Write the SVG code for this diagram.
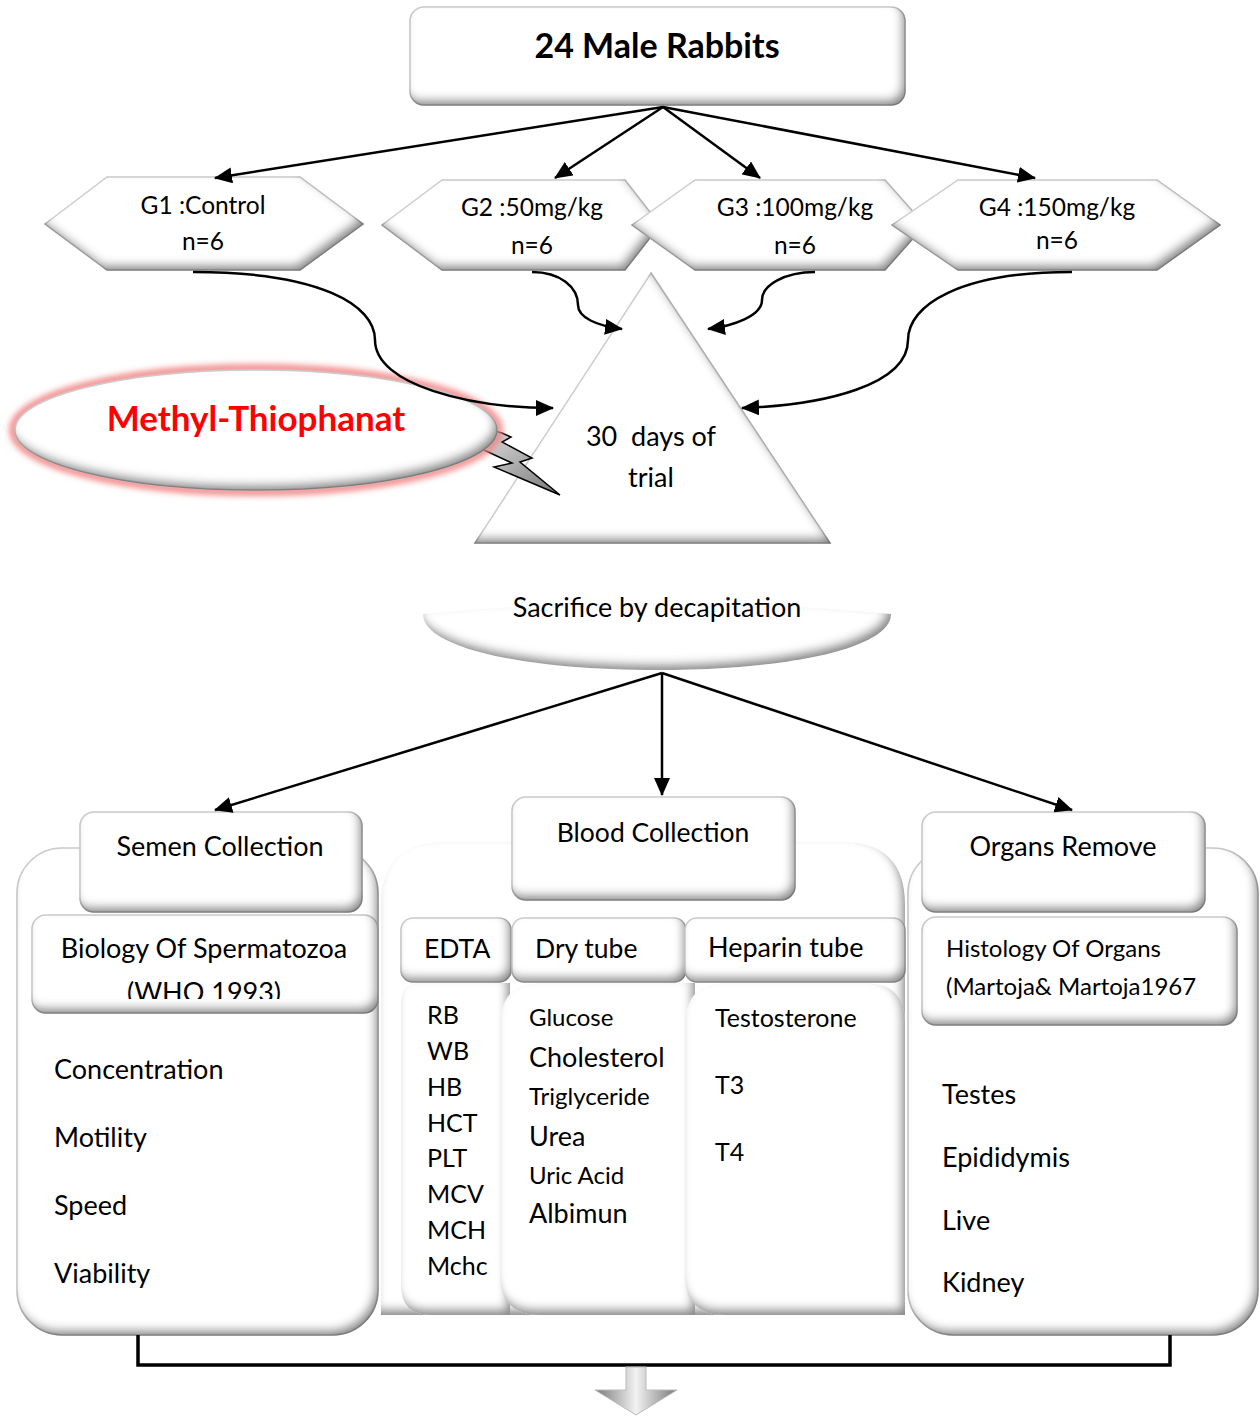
<svg xmlns="http://www.w3.org/2000/svg" width="1260" height="1416" viewBox="0 0 1260 1416">
<defs>
  <filter id="bev" x="-20%" y="-20%" width="140%" height="140%">
    <feFlood flood-color="#000" flood-opacity="0.75" result="f"/>
    <feComposite in="f" in2="SourceAlpha" operator="out" result="inv"/>
    <feOffset in="inv" dx="-4" dy="-6" result="off"/>
    <feGaussianBlur in="off" stdDeviation="5" result="blur"/>
    <feComposite in="blur" in2="SourceAlpha" operator="in" result="sh"/>
    <feMerge><feMergeNode in="SourceGraphic"/><feMergeNode in="sh"/></feMerge>
  </filter>
  <filter id="glow" x="-20%" y="-40%" width="140%" height="180%">
    <feGaussianBlur stdDeviation="3"/>
  </filter>
  <linearGradient id="boltG" x1="0" y1="0" x2="1" y2="1">
    <stop offset="0" stop-color="#eee"/>
    <stop offset="1" stop-color="#777"/>
  </linearGradient>
  <linearGradient id="arrG" x1="0" y1="0" x2="1" y2="0">
    <stop offset="0" stop-color="#777"/>
    <stop offset="0.5" stop-color="#f2f2f2"/>
    <stop offset="1" stop-color="#777"/>
  </linearGradient>
  <marker id="ah2" markerWidth="18" markerHeight="16" refX="17" refY="8" orient="auto" markerUnits="userSpaceOnUse" viewBox="0 0 18 16">
    <path d="M0,0 L18,8 L0,16 Z" fill="#000"/>
  </marker>
  <clipPath id="bioClip"><rect x="30" y="915" width="350" height="84"/></clipPath>
  <style>
    .sh { fill: #fff; stroke: #d0d0d0; stroke-width: 1.5; filter: url(#bev); }
    .ns { stroke: none; }
    .t { font-family: Lato, "Open Sans", "Liberation Sans", sans-serif; fill: #000; }
    .c { text-anchor: middle; }
    .con { fill: none; stroke: #000; stroke-width: 2.5; }
  </style>
</defs>
<rect width="1260" height="1416" fill="#fff"/>

<!-- Top box -->
<g id="rabbits">
  <rect class="sh" x="410" y="7" width="495" height="98" rx="14"/>
  <text class="t c" x="657" y="58" font-size="34" font-weight="bold">24 Male Rabbits</text>
</g>

<!-- Hexagons -->
<g id="g1">
  <polygon class="sh" points="45,224 107,177 300,177 363,224 300,270 107,270"/>
  <text class="t c" x="203" y="214" font-size="24.5">G1 :Control</text>
  <text class="t c" x="203" y="250" font-size="24.5">n=6</text>
</g>
<g id="g2">
  <polygon class="sh" points="382,225 442,180 625,180 660,225 625,270 442,270"/>
  <text class="t c" x="532" y="216" font-size="24.5">G2 :50mg/kg</text>
  <text class="t c" x="532" y="254" font-size="24.5">n=6</text>
</g>
<g id="g3">
  <polygon class="sh" points="632,225 695,180 885,180 925,225 885,270 695,270"/>
  <text class="t c" x="795" y="216" font-size="24.5">G3 :100mg/kg</text>
  <text class="t c" x="795" y="254" font-size="24.5">n=6</text>
</g>
<g id="g4">
  <polygon class="sh" points="892,225 958,180 1157,180 1220,225 1157,270 958,270"/>
  <text class="t c" x="1057" y="216" font-size="24.5">G4 :150mg/kg</text>
  <text class="t c" x="1057" y="249" font-size="24.5">n=6</text>
</g>

<!-- Triangle -->
<g id="trial">
  <polygon class="sh" points="651,273 830,543 475,543"/>
  <text class="t c" x="651" y="446" font-size="27" style="white-space:pre">30  days of</text>
  <text class="t c" x="651" y="487" font-size="27">trial</text>
</g>

<!-- Methyl-Thiophanat -->
<g id="methyl">
  <polygon points="470,424 502,433 511,437 502,442 532,458 520,462 560,495 494,467 512,463 486,451 466,444" fill="url(#boltG)" stroke="#000" stroke-width="1.5"/>
  <ellipse cx="256" cy="430" rx="243" ry="62" fill="none" stroke="#f08080" stroke-width="7" filter="url(#glow)"/>
  <ellipse class="sh" cx="256" cy="430" rx="241" ry="60" stroke="#c8a0a0"/>
  <text class="t c" x="256" y="431" font-size="35" font-weight="bold" style="fill:#ff0000">Methyl-Thiophanat</text>
</g>

<!-- Sacrifice -->
<g id="sacrifice">
  <path class="sh ns" d="M423,614 Q657,592 891,614 C891,648 790,670 657,670 C524,670 423,648 423,614 Z"/>
  <text class="t c" x="657" y="617" font-size="27">Sacrifice by decapitation</text>
</g>

<!-- Left column -->
<g id="semen">
  <rect class="sh" x="17" y="848" width="361" height="487" rx="45"/>
  <rect class="sh" x="80" y="812" width="282" height="100" rx="14"/>
  <text class="t c" x="220" y="856" font-size="27">Semen Collection</text>
  <rect class="sh" x="32" y="915" width="346" height="98" rx="14"/>
  <g clip-path="url(#bioClip)">
    <text class="t c" x="204" y="958" font-size="27">Biology Of Spermatozoa</text>
    <text class="t c" x="204" y="1002" font-size="27">(WHO 1993)</text>
  </g>
  <text class="t" x="54" y="1079" font-size="27">Concentration</text>
  <text class="t" x="54" y="1147" font-size="27">Motility</text>
  <text class="t" x="54" y="1215" font-size="27">Speed</text>
  <text class="t" x="54" y="1283" font-size="27">Viability</text>
</g>

<!-- Middle column -->
<g id="blood">
  <path class="sh" d="M381,1315 L381,905 Q381,842 445,842 L842,842 Q905,842 905,905 L905,1315 Z" style="stroke:none"/>
  <rect class="sh" x="512" y="797" width="283" height="103" rx="14"/>
  <text class="t c" x="653" y="842" font-size="26.5">Blood Collection</text>
  <rect class="sh" x="401" y="918" width="110" height="64" rx="12"/>
  <rect class="sh" x="512" y="918" width="174" height="64" rx="12"/>
  <rect class="sh" x="685" y="918" width="220" height="64" rx="12"/>
  <text class="t" x="424" y="958" font-size="26.5">EDTA</text>
  <text class="t" x="535" y="958" font-size="26.5">Dry tube</text>
  <text class="t" x="708" y="957" font-size="27">Heparin tube</text>
  <path class="sh ns" d="M431,1315 Q401,1315 401,1285 L401,1003 Q401,983 421,983 L510,983 L510,1315 Z"/>
  <path class="sh ns" d="M540,1315 Q500,1315 500,1275 L500,1025 Q500,983 542,983 L695,983 L695,1315 Z"/>
  <path class="sh ns" d="M725,1315 Q685,1315 685,1275 L685,1025 Q685,983 727,983 L865,983 Q905,983 905,1023 L905,1315 Z"/>
  <text class="t" x="427" y="1024" font-size="25">RB</text>
  <text class="t" x="427" y="1060" font-size="25">WB</text>
  <text class="t" x="427" y="1096" font-size="25">HB</text>
  <text class="t" x="427" y="1132" font-size="25">HCT</text>
  <text class="t" x="427" y="1167" font-size="25">PLT</text>
  <text class="t" x="427" y="1203" font-size="25">MCV</text>
  <text class="t" x="427" y="1239" font-size="25">MCH</text>
  <text class="t" x="427" y="1275" font-size="25">Mchc</text>
  <text class="t" x="529" y="1026" font-size="24">Glucose</text>
  <text class="t" x="529" y="1067" font-size="27">Cholesterol</text>
  <text class="t" x="529" y="1105" font-size="24">Triglyceride</text>
  <text class="t" x="529" y="1146" font-size="27">Urea</text>
  <text class="t" x="529" y="1184" font-size="24">Uric Acid</text>
  <text class="t" x="529" y="1223" font-size="27">Albimun</text>
  <text class="t" x="715" y="1027" font-size="25">Testosterone</text>
  <text class="t" x="715" y="1094" font-size="25">T3</text>
  <text class="t" x="715" y="1161" font-size="25">T4</text>
</g>

<!-- Right column -->
<g id="organs">
  <rect class="sh" x="908" y="848" width="350" height="487" rx="45"/>
  <rect class="sh" x="922" y="812" width="283" height="100" rx="14"/>
  <text class="t c" x="1063" y="856" font-size="27">Organs Remove</text>
  <rect class="sh" x="922" y="917" width="315" height="108" rx="14"/>
  <text class="t" x="946" y="957" font-size="24">Histology Of Organs</text>
  <text class="t" x="946" y="995" font-size="24">(Martoja&amp; Martoja1967</text>
  <text class="t" x="942" y="1104" font-size="27">Testes</text>
  <text class="t" x="942" y="1167" font-size="27">Epididymis</text>
  <text class="t" x="942" y="1230" font-size="27">Live</text>
  <text class="t" x="942" y="1292" font-size="27">Kidney</text>
</g>

<!-- Connectors -->
<g id="connectors">
  <line class="con" x1="663" y1="107" x2="215" y2="178" marker-end="url(#ah2)"/>
  <line class="con" x1="663" y1="107" x2="555" y2="178" marker-end="url(#ah2)"/>
  <line class="con" x1="663" y1="107" x2="760" y2="178" marker-end="url(#ah2)"/>
  <line class="con" x1="663" y1="107" x2="1035" y2="178" marker-end="url(#ah2)"/>
  <path class="con" d="M193,272 C320,272 375,305 375,340 C375,385 470,408 553,408" marker-end="url(#ah2)"/>
  <path class="con" d="M532,272 C560,272 578,287 578,305 C578,318 598,326 622,329" marker-end="url(#ah2)"/>
  <path class="con" d="M815,272 C785,272 762,285 762,300 C762,316 733,326 708,329" marker-end="url(#ah2)"/>
  <path class="con" d="M1072,272 C960,272 908,305 908,340 C908,385 825,405 742,408" marker-end="url(#ah2)"/>
  <line class="con" x1="662" y1="673" x2="215" y2="810" marker-end="url(#ah2)"/>
  <line class="con" x1="662" y1="673" x2="662" y2="795" marker-end="url(#ah2)"/>
  <line class="con" x1="662" y1="673" x2="1072" y2="810" marker-end="url(#ah2)"/>
  <path d="M138,1335 L138,1365 L1170,1365 L1170,1335" fill="none" stroke="#000" stroke-width="3.5"/>
  <path d="M626,1367 L646,1367 L646,1390 L677,1390 L636,1415 L595,1390 L626,1390 Z" fill="url(#arrG)" stroke="#bbb" stroke-width="1"/>
</g>
</svg>
